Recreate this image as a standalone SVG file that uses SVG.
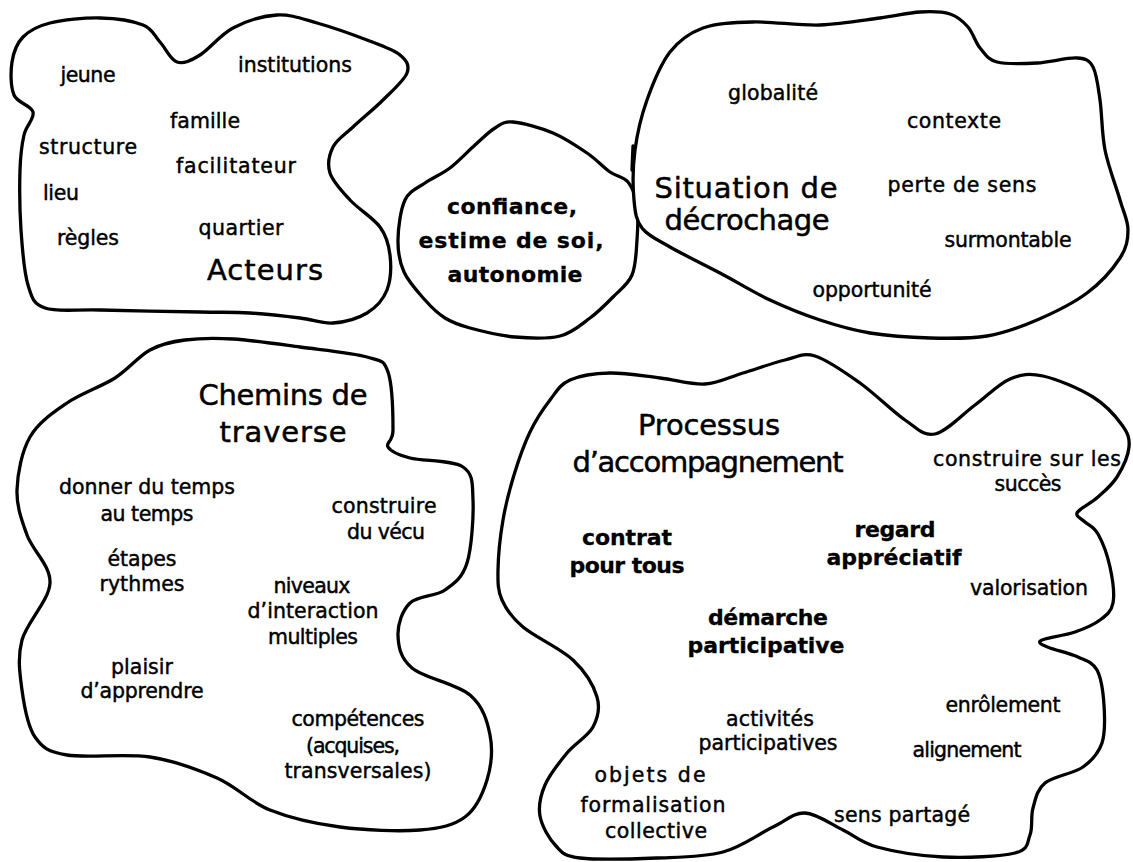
<svg xmlns="http://www.w3.org/2000/svg" width="1133" height="862" viewBox="0 0 1133 862">
<style>
.blob{fill:#fff;stroke:#000;stroke-width:3.3;stroke-linejoin:round;stroke-linecap:round}
.t{font-family:"Comic Sans MS","DejaVu Sans",sans-serif;font-size:20.5px;fill:#000;stroke:#000;stroke-width:0.45px;text-anchor:middle}
.b{font-weight:bold;font-size:22px;stroke-width:0.3px}
.big{font-size:29px;stroke-width:0.5px}
</style>
<rect width="1133" height="862" fill="#fff"/>
<g id="connectors"/>

<g id="acteurs">
<path class="blob" d="M23,37 C29.3,30.5 37.2,26.2 50,23 C62.8,19.8 84.5,17.7 100,18 C115.5,18.3 133,21 143,25 C153,29 154.3,35.8 160,42 C165.7,48.2 170.3,59.8 177,62 C183.7,64.2 190.7,60.7 200,55 C209.3,49.3 220.2,34.7 233,28 C245.8,21.3 263,15.8 277,15 C291,14.2 302,18.8 317,23 C332,27.2 353.2,34.7 367,40 C380.8,45.3 393.3,49.5 400,55 C406.7,60.5 409.8,65.5 407,73 C404.2,80.5 392,91 383,100 C374,109 361.3,119.2 353,127 C344.7,134.8 336.8,139.3 333,147 C329.2,154.7 327.2,164.2 330,173 C332.8,181.8 341.7,191 350,200 C358.3,209 373.3,217.8 380,227 C386.7,236.2 388.8,244.5 390,255 C391.2,265.5 390.8,280.3 387,290 C383.2,299.7 376,307.5 367,313 C358,318.5 344.2,322.2 333,323 C321.8,323.8 313.8,319.7 300,318 C286.2,316.3 266.7,314 250,313 C233.3,312 225,312.5 200,312 C175,311.5 125.8,310.7 100,310 C74.2,309.3 57,312.2 45,308 C33,303.8 32,298 28,285 C24,272 22.3,249.2 21,230 C19.7,210.8 19.5,185.8 20,170 C20.5,154.2 21.8,144.7 24,135 C26.2,125.3 34.7,118.7 33,112 C31.3,105.3 17.5,103.3 14,95 C10.5,86.7 10.5,71.7 12,62 C13.5,52.3 16.7,43.5 23,37 Z"/>
<text class="t" x="88" y="82" textLength="55">jeune</text>
<text class="t" x="295" y="72" textLength="114">institutions</text>
<text class="t" x="205" y="128" textLength="70">famille</text>
<text class="t" x="88" y="154" textLength="98">structure</text>
<text class="t" x="236" y="173" textLength="120">facilitateur</text>
<text class="t" x="61" y="200" textLength="36">lieu</text>
<text class="t" x="88" y="245" textLength="62">règles</text>
<text class="t" x="241" y="235" textLength="85">quartier</text>
<text class="t big" x="265" y="280" textLength="116">Acteurs</text>
</g>

<g id="confiance">
<path class="blob" d="M513,122 C522.7,122.8 540.7,127.8 553,133 C565.3,138.2 577.5,146.5 587,153 C596.5,159.5 603.2,167.2 610,172 C616.8,176.8 623.5,176.5 628,182 C632.5,187.5 635.5,195.3 637,205 C638.5,214.7 637.8,228.3 637,240 C636.2,251.7 636,265.5 632,275 C628,284.5 620,289.8 613,297 C606,304.2 598.8,311.5 590,318 C581.2,324.5 572.5,332.8 560,336 C547.5,339.2 530,338.3 515,337 C500,335.7 481.7,331.2 470,328 C458.3,324.8 452.5,322.7 445,318 C437.5,313.3 431.8,307.7 425,300 C418.2,292.3 408.5,282 404,272 C399.5,262 397.8,252 398,240 C398.2,228 400.5,209.5 405,200 C409.5,190.5 417.5,188.3 425,183 C432.5,177.7 441.7,174.3 450,168 C458.3,161.7 467.5,151.7 475,145 C482.5,138.3 488.7,131.8 495,128 C501.3,124.2 503.3,121.2 513,122 Z"/>
<text class="t b" x="512" y="214" textLength="130">confiance,</text>
<text class="t b" x="511" y="248" textLength="185">estime de soi,</text>
<text class="t b" x="515" y="282" textLength="135">autonomie</text>
</g>

<g id="situation">
<path class="blob" d="M647,100 C652.8,83.7 660.7,64 670,52 C679.3,40 689.2,33 703,28 C716.8,23 733.5,22.5 753,22 C772.5,21.5 798.8,25.7 820,25 C841.2,24.3 863.3,20.2 880,18 C896.7,15.8 908.3,12.7 920,12 C931.7,11.3 942,11.5 950,14 C958,16.5 963,21.3 968,27 C973,32.7 975.2,42.2 980,48 C984.8,53.8 987.5,59.5 997,62 C1006.5,64.5 1023.7,63.7 1037,63 C1050.3,62.3 1067.7,57.3 1077,58 C1086.3,58.7 1089.2,60 1093,67 C1096.8,74 1098,86.2 1100,100 C1102,113.8 1101.7,133.3 1105,150 C1108.3,166.7 1116.2,186.7 1120,200 C1123.8,213.3 1128,220.3 1128,230 C1128,239.7 1126.8,247.5 1120,258 C1113.2,268.5 1100.8,282.7 1087,293 C1073.2,303.3 1053.7,312.8 1037,320 C1020.3,327.2 1004.8,333 987,336 C969.2,339 949.5,338.5 930,338 C910.5,337.5 888.3,336 870,333 C851.7,330 836.7,325.5 820,320 C803.3,314.5 786.7,307.8 770,300 C753.3,292.2 736.7,281.8 720,273 C703.3,264.2 683,254.5 670,247 C657,239.5 648,235.8 642,228 C636,220.2 635.2,213 634,200 C632.8,187 632.8,166.7 635,150 C637.2,133.3 641.2,116.3 647,100 Z"/>
<path class="blob" fill="none" d="M633,146 L632,170"/>
<text class="t" x="773" y="100" textLength="90">globalité</text>
<text class="t" x="954" y="128" textLength="94">contexte</text>
<text class="t big" x="746" y="198" textLength="183">Situation de</text>
<text class="t big" x="747" y="230" textLength="165">décrochage</text>
<text class="t" x="962" y="192" textLength="149">perte de sens</text>
<text class="t" x="1008" y="247" textLength="127">surmontable</text>
<text class="t" x="872" y="297" textLength="119">opportunité</text>
</g>

<g id="chemins">
<path class="blob" d="M150,350 C161.7,343.7 171.2,341.8 185,340 C198.8,338.2 213.8,337.8 233,339 C252.2,340.2 277.7,344 300,347 C322.3,350 352.3,352.8 367,357 C381.7,361.2 383.7,359.8 388,372 C392.3,384.2 393,417.5 393,430 C393,442.5 385.2,442.3 388,447 C390.8,451.7 397.5,454.7 410,458 C422.5,461.3 452.5,460 463,467 C473.5,474 472.3,484 473,500 C473.7,516 471.7,548 467,563 C462.3,578 454.5,583.3 445,590 C435.5,596.7 417.8,595.5 410,603 C402.2,610.5 397.7,624.2 398,635 C398.3,645.8 400,658 412,668 C424,678 457,683.8 470,695 C483,706.2 487.2,720.8 490,735 C492.8,749.2 491.2,766.3 487,780 C482.8,793.7 476.2,808.7 465,817 C453.8,825.3 440.8,828.3 420,830 C399.2,831.7 365,830.3 340,827 C315,823.7 290.5,818.2 270,810 C249.5,801.8 237,786.8 217,778 C197,769.2 175,760.8 150,757 C125,753.2 86.2,758.3 67,755 C47.8,751.7 42.5,747.8 35,737 C27.5,726.2 24.2,706.2 22,690 C19.8,673.8 17.3,657.8 22,640 C26.7,622.2 49.2,600.5 50,583 C50.8,565.5 32.5,550.5 27,535 C21.5,519.5 16.5,506.3 17,490 C17.5,473.7 21.7,451.5 30,437 C38.3,422.5 52.8,412.8 67,403 C81.2,393.2 101.2,386.8 115,378 C128.8,369.2 138.3,356.3 150,350 Z"/>
<text class="t big" x="283" y="405" textLength="169">Chemins de</text>
<text class="t big" x="283" y="442" textLength="127">traverse</text>
<text class="t" x="147" y="494" textLength="176">donner du temps</text>
<text class="t" x="147" y="521" textLength="93">au temps</text>
<text class="t" x="384" y="513" textLength="105">construire</text>
<text class="t" x="386" y="539" textLength="78">du vécu</text>
<text class="t" x="142" y="566" textLength="69">étapes</text>
<text class="t" x="142" y="591" textLength="85">rythmes</text>
<text class="t" x="312" y="593" textLength="77">niveaux</text>
<text class="t" x="313" y="618" textLength="131">d’interaction</text>
<text class="t" x="313" y="644" textLength="90">multiples</text>
<text class="t" x="142" y="674" textLength="62">plaisir</text>
<text class="t" x="142" y="698" textLength="123">d’apprendre</text>
<text class="t" x="358" y="726" textLength="133">compétences</text>
<text class="t" x="353" y="753" textLength="94">(acquises,</text>
<text class="t" x="358" y="778" textLength="147">transversales)</text>
</g>

<g id="processus">
<path class="blob" d="M570,380 C580,375.5 595,373.3 610,373 C625,372.7 644.2,376.2 660,378 C675.8,379.8 691.2,384.8 705,384 C718.8,383.2 729.7,377 743,373 C756.3,369 773,362.8 785,360 C797,357.2 802.5,352.2 815,356 C827.5,359.8 845,372.3 860,383 C875,393.7 892.5,411.5 905,420 C917.5,428.5 923.3,436.5 935,434 C946.7,431.5 962.5,414.2 975,405 C987.5,395.8 998.7,383.8 1010,379 C1021.3,374.2 1029.2,373 1043,376 C1056.8,379 1079.8,388.8 1093,397 C1106.2,405.2 1116,416.7 1122,425 C1128,433.3 1129.8,438.3 1129,447 C1128.2,455.7 1122.2,468.7 1117,477 C1111.8,485.3 1104,491.7 1098,497 C1092,502.3 1084.5,506 1081,509 C1077.5,512 1076.3,512.8 1077,515 C1077.7,517.2 1081.5,518.8 1085,522 C1088.5,525.2 1093.8,526.5 1098,534 C1102.2,541.5 1107.5,555.5 1110,567 C1112.5,578.5 1114.7,594.2 1113,603 C1111.3,611.8 1106.3,615.2 1100,620 C1093.7,624.8 1084.2,628.8 1075,632 C1065.8,635.2 1050.8,637.2 1045,639 C1039.2,640.8 1039.2,641.5 1040,643 C1040.8,644.5 1043.7,645.7 1050,648 C1056.3,650.3 1070.2,653.3 1078,657 C1085.8,660.7 1092.7,662 1097,670 C1101.3,678 1103.2,692.8 1104,705 C1104.8,717.2 1105.5,732.7 1102,743 C1098.5,753.3 1092.5,760.3 1083,767 C1073.5,773.7 1053.3,776.2 1045,783 C1036.7,789.8 1035.5,799.3 1033,808 C1030.5,816.7 1033,827.5 1030,835 C1027,842.5 1029.5,849.3 1015,853 C1000.5,856.7 966,858 943,857 C920,856 893.7,851.5 877,847 C860.3,842.5 855,835.7 843,830 C831,824.3 816.7,813.5 805,813 C793.3,812.5 786.7,820.5 773,827 C759.3,833.5 742.3,846.8 723,852 C703.7,857.2 680.8,857 657,858 C633.2,859 596.8,860 580,858 C563.2,856 562.7,853 556,846 C549.3,839 541.8,826.2 540,816 C538.2,805.8 540.5,795.5 545,785 C549.5,774.5 559,762.7 567,753 C575,743.3 588,736.3 593,727 C598,717.7 600.3,708.2 597,697 C593.7,685.8 585.3,671.7 573,660 C560.7,648.3 534.8,637 523,627 C511.2,617 506.2,609.5 502,600 C497.8,590.5 497.8,583.3 498,570 C498.2,556.7 500.3,535.8 503,520 C505.7,504.2 509.5,489.7 514,475 C518.5,460.3 524,444.5 530,432 C536,419.5 543.3,408.7 550,400 C556.7,391.3 560,384.5 570,380 Z"/>
<text class="t big" x="709" y="435" textLength="142">Processus</text>
<text class="t big" x="708" y="472" textLength="271">d’accompagnement</text>
<text class="t" x="1027" y="466" textLength="188">construire sur les</text>
<text class="t" x="1028" y="491" textLength="67">succès</text>
<text class="t b" x="627" y="545" textLength="90">contrat</text>
<text class="t b" x="627" y="573" textLength="115">pour tous</text>
<text class="t b" x="895" y="537" textLength="81">regard</text>
<text class="t b" x="894" y="565" textLength="135">appréciatif</text>
<text class="t" x="1029" y="595" textLength="118">valorisation</text>
<text class="t b" x="768" y="625" textLength="120">démarche</text>
<text class="t b" x="766" y="653" textLength="157">participative</text>
<text class="t" x="770" y="726" textLength="88">activités</text>
<text class="t" x="768" y="750" textLength="139">participatives</text>
<text class="t" x="1003" y="712" textLength="115">enrôlement</text>
<text class="t" x="967" y="757" textLength="109">alignement</text>
<text class="t" x="650" y="782" textLength="111">objets de</text>
<text class="t" x="653" y="812" textLength="145">formalisation</text>
<text class="t" x="656" y="838" textLength="102">collective</text>
<text class="t" x="902" y="822" textLength="136">sens partagé</text>
</g>
</svg>
